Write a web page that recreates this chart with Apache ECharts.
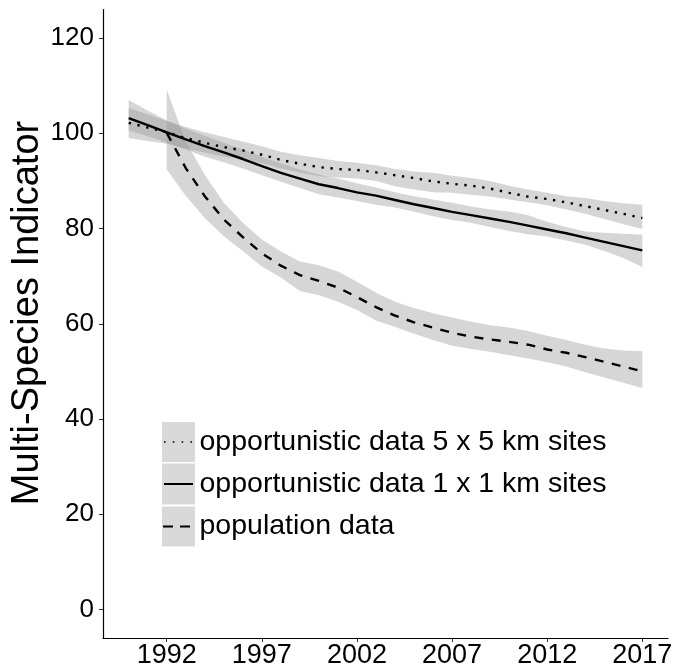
<!DOCTYPE html>
<html><head><meta charset="utf-8">
<script src="https://cdn.jsdelivr.net/npm/echarts@6/dist/echarts.min.js"></script>
<style>html,body{margin:0;padding:0;background:#fff}#c{width:673px;height:670px}</style>
</head><body><div id="c"></div>
<script>
// ---- data ----
const years = [1990,1991,1992,1993,1994,1995,1996,1997,1998,1999,2000,2001,2002,2003,2004,2005,2006,2007,2008,2009,2010,2011,2012,2013,2014,2015,2016,2017];
const popYears = [1992,1993,1994,1995,1996,1997,1998,1999,2000,2001,2002,2003,2004,2005,2006,2007,2008,2009,2010,2011,2012,2013,2014,2015,2016,2017];

// opportunistic data 5 x 5 km sites (dotted)
const opp5Mid = [102.2,101.2,100.2,99.0,98.0,97.1,96.4,95.5,94.4,93.6,92.9,92.5,92.3,91.8,91.2,90.6,89.9,89.4,89.0,88.4,87.5,86.7,86.2,85.5,84.7,83.9,83.1,82.2];
const opp5Hi  = [105.3,104.0,102.6,101.3,100.2,99.2,98.3,97.3,96.1,95.4,94.8,94.2,93.8,93.3,92.5,92.0,91.7,91.1,90.6,90.0,89.0,88.2,87.5,86.8,86.4,85.8,85.3,85.0];
const opp5Lo  = [99.0,98.4,97.8,96.8,95.9,95.1,94.5,93.7,92.6,91.7,91.0,90.7,90.5,90.0,88.9,88.2,87.6,87.5,87.1,86.7,86.1,85.5,84.9,84.0,83.1,82.0,80.9,79.9];

// opportunistic data 1 x 1 km sites (solid)
const opp1Mid = [103.2,101.7,100.2,98.7,97.3,96.0,94.6,93.1,91.7,90.5,89.3,88.5,87.6,86.9,86.0,85.1,84.3,83.5,82.8,82.1,81.4,80.6,79.8,79.0,78.1,77.2,76.3,75.4];
const opp1Hi  = [107.0,104.8,102.7,101.0,99.5,98.0,96.6,95.1,93.7,92.4,91.3,90.5,89.5,88.6,87.6,86.8,86.1,85.4,84.6,84.0,83.6,82.8,81.4,80.3,79.4,79.1,78.9,78.7];
const opp1Lo  = [100.6,99.4,98.0,96.6,95.1,93.9,92.6,91.2,89.8,88.5,87.2,86.5,85.8,85.0,84.4,83.5,82.6,81.8,81.2,80.3,79.5,78.8,78.3,77.5,76.6,75.3,73.8,71.9];

// population data (dashed)
const popMid = [100.1,92.7,86.8,81.9,78.2,74.8,72.2,70.2,69.0,67.6,65.6,63.5,61.7,60.3,59.2,58.1,57.3,56.7,56.2,55.6,54.6,53.9,53.0,52.0,51.0,50.0];
const popHi  = [109.2,98.3,91.3,85.4,81.2,77.7,75.2,73.1,72.3,71.0,68.8,66.5,64.6,63.3,62.2,61.3,60.4,59.7,59.2,58.5,57.5,56.6,55.6,54.8,54.4,54.2];
const popLo  = [92.4,86.9,82.2,78.4,75.3,72.0,69.7,66.9,66.0,64.6,62.9,60.7,59.3,57.9,56.6,55.4,54.7,54.1,53.4,52.7,51.9,51.0,49.8,48.7,47.6,46.5];

const yTicks = [0,20,40,60,80,100,120];
const xTicks = [1992,1997,2002,2007,2012,2017];
const legendLabels = ['opportunistic data 5 x 5 km sites','opportunistic data 1 x 1 km sites','population data'];
const yTitle = 'Multi-Species Indicator';

// ---- helpers ----
const FONT = '"Liberation Sans", Arial, sans-serif';
const BAND = 'rgba(153,153,153,0.4)';
function pairs(xs, ys){ return xs.map((x,i)=>[x, ys[i]]); }
function bandSeries(name, xs, lo, hi){
  return {
    type:'custom', name:name+'_band', silent:true, z:1,
    data: xs.map((x,i)=>[x, lo[i], hi[i]]),
    encode:{x:0, y:[1,2]},
    renderItem:function(params, api){
      if (params.dataIndex !== 0) return null;
      const upper = xs.map((x,i)=>api.coord([x, hi[i]]));
      const lower = xs.map((x,i)=>api.coord([x, lo[i]])).reverse();
      return {type:'polygon', shape:{points: upper.concat(lower)}, style:{fill:BAND, stroke:null}};
    }
  };
}
function lineSeries(name, xs, ys, type){
  return {type:'line', name:name, data:pairs(xs, ys), symbol:'none', silent:true, z:5,
    lineStyle:{color:'#000', width:2.4, type:type, cap:'butt'}};
}

const chart = echarts.init(document.getElementById('c'), null, {renderer:'canvas'});
chart.setOption({
  animation:false,
  backgroundColor:'#fff',
  grid:{left:103, right:5, top:9.5, bottom:32, containLabel:false, outerBoundsMode:'none'},
  xAxis:{type:'value', min:1988.65, max:2018.35,
    splitLine:{show:false},
    axisLine:{show:true, onZero:false, lineStyle:{color:'#000', width:1.2}},
    axisTick:{show:true, length:4, lineStyle:{color:'#333', width:1}, customValues:xTicks},
    axisLabel:{show:true, customValues:xTicks, color:'#000', fontSize:27, fontFamily:FONT, margin:4,
      formatter:v=>String(Math.round(v))}
  },
  yAxis:{type:'value', min:-6, max:126,
    splitLine:{show:false},
    axisLine:{show:true, onZero:false, lineStyle:{color:'#000', width:1.2}},
    axisTick:{show:true, length:4, lineStyle:{color:'#333', width:1}, customValues:yTicks},
    axisLabel:{show:true, customValues:yTicks, color:'#000', fontSize:26, fontFamily:FONT, margin:9,
      formatter:v=>String(Math.round(v))}
  },
  series:[
    bandSeries('opp5', years, opp5Lo, opp5Hi),
    bandSeries('opp1', years, opp1Lo, opp1Hi),
    bandSeries('pop', popYears, popLo, popHi),
    lineSeries(legendLabels[0], years, opp5Mid, [2.4,6.6]),
    lineSeries(legendLabels[1], years, opp1Mid, 'solid'),
    lineSeries(legendLabels[2], popYears, popMid, [9,8.5])
  ],
  graphic:[
    {type:'text', x:28, y:313, rotation:Math.PI/2,
     style:{text:yTitle, font:'38px '+FONT, fill:'#000', align:'center', verticalAlign:'middle'}},
    {type:'rect', shape:{x:162, y:422, width:33, height:40}, style:{fill:'#d9d9d9'}},
    {type:'rect', shape:{x:162, y:463.5, width:33, height:41}, style:{fill:'#d9d9d9'}},
    {type:'rect', shape:{x:162, y:506.5, width:33, height:40}, style:{fill:'#d9d9d9'}},
    {type:'line', shape:{x1:164, y1:442, x2:194, y2:442}, style:{stroke:'#000', lineWidth:1.6, lineDash:[1.6,7.2]}},
    {type:'line', shape:{x1:164, y1:484, x2:193, y2:484}, style:{stroke:'#000', lineWidth:2}},
    {type:'line', shape:{x1:163, y1:526.5, x2:193, y2:526.5}, style:{stroke:'#000', lineWidth:2, lineDash:[10,7]}},
    {type:'text', x:199.5, y:442, style:{text:legendLabels[0], font:'28.5px '+FONT, fill:'#000', verticalAlign:'middle'}},
    {type:'text', x:199.5, y:484, style:{text:legendLabels[1], font:'28.5px '+FONT, fill:'#000', verticalAlign:'middle'}},
    {type:'text', x:199.5, y:526.5, style:{text:legendLabels[2], font:'28.5px '+FONT, fill:'#000', verticalAlign:'middle'}}
  ]
});
</script>
</body></html>
